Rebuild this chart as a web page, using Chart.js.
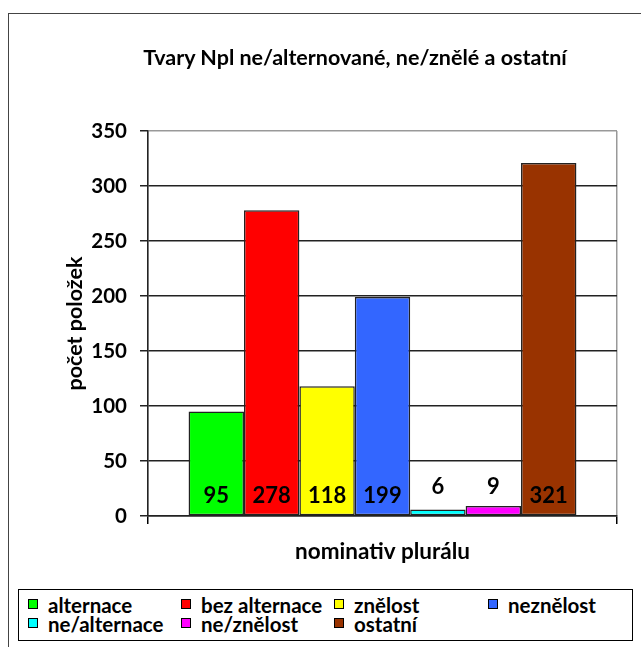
<!DOCTYPE html>
<html>
<head>
<meta charset="utf-8">
<script src="https://cdn.jsdelivr.net/npm/chart.js@4.4.1/dist/chart.umd.min.js"></script>
<style>
  html, body { margin: 0; padding: 0; background: #fff; }
  body { width: 641px; height: 647px; position: relative; overflow: hidden; font-family: Lato, sans-serif; }
  #frame { position: absolute; left: 8px; top: 13px; width: 700px; height: 700px; border: 1px solid #444; box-sizing: border-box; }
  #chartBox { position: absolute; left: 0; top: 0; width: 641px; height: 647px; }
  #title { position: absolute; left: 55px; width: 600px; top: 44px; text-align: center; font-weight: bold; font-size: 21.5px; line-height: 26px; white-space: nowrap; }
  #legend { position: absolute; left: 18px; top: 589px; width: 615px; height: 52px; border: 1px solid #000; box-sizing: border-box; background: #fff; }
  .item { position: absolute; font-weight: bold; font-size: 20.5px; line-height: 20px; white-space: nowrap; }
  .item i { position: absolute; left: -20px; top: 4px; width: 8px; height: 8px; border: 1px solid #000; }
</style>
</head>
<body>
<div id="frame"></div>
<div id="chartBox"><canvas id="barChart"></canvas></div>
<div id="title"></div>
<div id="legend"></div>
<script>
// data
const chartTitle = "Tvary Npl ne/alternované, ne/znělé a ostatní";
const categories = ["nominativ plurálu"];
const seriesNames = ["alternace", "bez alternace", "znělost", "neznělost", "ne/alternace", "ne/znělost", "ostatní"];
const seriesValues = [95, 278, 118, 199, 6, 9, 321];
const seriesColors = ["#00FF00", "#FF0000", "#FFFF00", "#3366FF", "#00FFFF", "#FF00FF", "#993300"];
const yTicks = [0, 50, 100, 150, 200, 250, 300, 350];

const FONT = "Lato, sans-serif";

// numbers drawn at the base of each bar, like Excel "inside base"
const barLabels = {
  id: "barLabels",
  afterDatasetsDraw(chart) {
    const { ctx } = chart;
    const base = chart.scales.y.getPixelForValue(0);
    ctx.save();
    ctx.font = "bold 22px " + FONT;
    ctx.fillStyle = "#000";
    ctx.textAlign = "center";
    ctx.textBaseline = "middle";
    chart.data.datasets.forEach((ds, i) => {
      const bar = chart.getDatasetMeta(i).data[0];
      const v = ds.data[0];
      const y = v < 20 ? base - 29 : base - 20;
      ctx.fillText(String(v), bar.x, y);
    });
    ctx.restore();
  },
};

document.getElementById("title").textContent = chartTitle;

const ctx = document.getElementById("barChart");
new Chart(ctx, {
  type: "bar",
  data: {
    labels: categories,
    datasets: seriesNames.map((name, i) => ({
      label: name,
      data: [seriesValues[i]],
      backgroundColor: seriesColors[i],
      borderColor: "#222",
      borderWidth: 1.5,
      borderSkipped: false,
      categoryPercentage: 0.827,
      barPercentage: 1,
    })),
  },
  options: {
    responsive: true,
    maintainAspectRatio: false,
    animation: false,
    layout: { padding: { left: 0, right: 24, top: 131, bottom: 0 } },
    plugins: {
      legend: { display: false },
      tooltip: { enabled: false },
    },
    scales: {
      x: {
        grid: { color: "#999", lineWidth: 1.5, tickLength: 8, tickColor: "#000" },
        border: { display: true, color: "#222", width: 1.5 },
        ticks: {
          color: "#000",
          padding: 14,
          font: { family: FONT, size: 22.5, weight: "bold" },
        },
        afterFit(scale) { scale.height = 131; },
      },
      y: {
        min: 0,
        max: 350,
        afterBuildTicks(scale) { scale.ticks = yTicks.map((v) => ({ value: v })); },
        grid: {
          color: (c) => (c.tick && c.tick.value === 350 ? "#999" : "#222"),
          lineWidth: 1.5,
          tickLength: 8,
          tickColor: "#222",
        },
        border: { display: true, color: "#222", width: 1.5 },
        ticks: {
          color: "#000",
          padding: 13,
          font: { family: FONT, size: 20.5, weight: "bold" },
        },
        title: {
          display: true,
          text: "počet položek",
          color: "#000",
          font: { family: FONT, size: 21.5, weight: "bold" },
          padding: { top: 62, bottom: 0 },
        },
        afterFit(scale) { scale.width = 148; },
      },
    },
  },
  plugins: [barLabels],
});

// legend laid out in four columns like the original
const legendCols = [47, 200, 353, 507];
const legendRows = [5, 24];
const legend = document.getElementById("legend");
seriesNames.forEach((name, i) => {
  const el = document.createElement("div");
  el.className = "item";
  el.style.left = legendCols[i % 4] - 18 + "px";
  el.style.top = legendRows[Math.floor(i / 4)] + "px";
  el.innerHTML = '<i style="background:' + seriesColors[i] + '"></i>' + name;
  legend.appendChild(el);
});
</script>
</body>
</html>
